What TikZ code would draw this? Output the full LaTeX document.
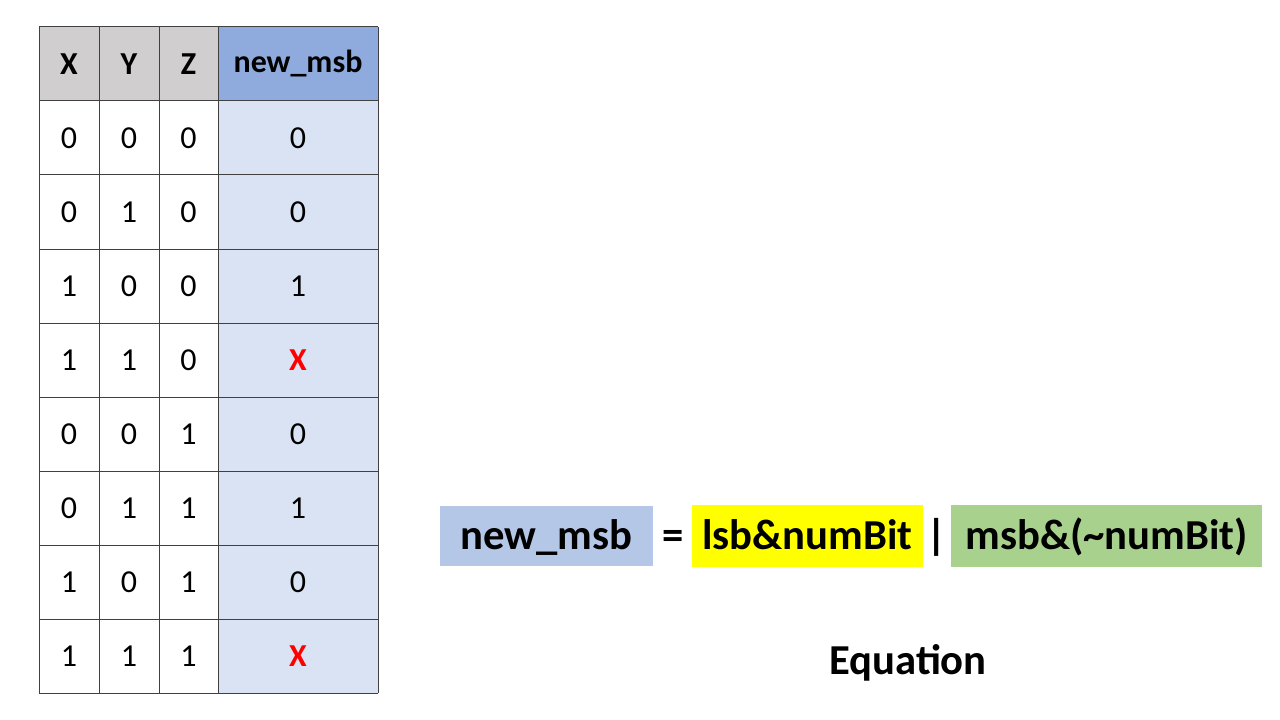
\documentclass[tikz,border=0pt]{standalone}
\usepackage{fontspec}
\setmainfont{Carlito}
\definecolor{hdrgray}{HTML}{D0CECE}
\definecolor{hdrblue}{HTML}{8FAADC}
\definecolor{bodyblue}{HTML}{DAE3F3}
\definecolor{eqblue}{HTML}{B4C7E7}
\definecolor{eqyellow}{HTML}{FFFF00}
\definecolor{eqgreen}{HTML}{A9D18E}
\definecolor{gridline}{HTML}{404040}
\definecolor{xred}{HTML}{FF0000}
\begin{document}
\begin{tikzpicture}[x=0.75pt,y=-0.75pt,
  cell/.style={font=\fontsize{24}{28}\selectfont},
  hcell/.style={font=\fontsize{24}{28}\selectfont\bfseries},
  xcell/.style={font=\fontsize{24}{28}\selectfont\bfseries,text=xred},
  eqtxt/.style={inner sep=0pt,font=\fontsize{32}{38}\selectfont\bfseries,text height=24pt,text depth=3.2pt},
  eqbox/.style={eqtxt,minimum height=45pt}]
\useasboundingbox (0,0) rectangle (1280,720);
% fills
\fill[hdrgray] (39,27) rectangle (218,101);
\fill[hdrblue] (218,27) rectangle (378,101);
\fill[bodyblue] (218,101) rectangle (378,693);
% grid
\foreach \yy in {27,101,175,249,323,397,471,545,619,693}
  \draw[gridline,line width=0.75pt] (39,\yy) -- (378,\yy);
\foreach \xx in {39,99,159,218,378}
  \draw[gridline,line width=0.75pt] (\xx,27) -- (\xx,693);
% header
\node[hcell] (hx) at (69,64) {X};
\node[hcell] (hy) at (129,64) {Y};
\node[hcell] (hz) at (188.5,64) {Z};
\node[hcell] (hn) at (298,64) {new\_msb};
% rows
\foreach \r/\a/\b [count=\i from 0] in {0/0/0, 0/1/0, 1/0/0, 1/1/0, 0/0/1, 0/1/1, 1/0/1, 1/1/1}{
  \pgfmathsetmacro{\yc}{138+74*\i}
  \node[cell] (r\i x) at (69,\yc) {\r};
  \node[cell] (r\i y) at (129,\yc) {\a};
  \node[cell] (r\i z) at (188.5,\yc) {\b};
}
\node[cell] (r0n) at (298,138) {0};
\node[cell] (r1n) at (298,212) {0};
\node[cell] (r2n) at (298,286) {1};
\node[xcell] (r3n) at (298,360) {X};
\node[cell] (r4n) at (298,434) {0};
\node[cell] (r5n) at (298,508) {1};
\node[cell] (r6n) at (298,582) {0};
\node[xcell] (r7n) at (298,656) {X};
% equation
\node[eqbox,fill=eqblue,minimum width=159.75pt] (enew) at (546.5,536) {new\_msb};
\node[eqtxt] (eeq) at (673,536) {=};
\node[eqbox,fill=eqyellow,minimum width=173.25pt,minimum height=46.5pt] (elsb) at (807.5,536) {lsb\&numBit};
\node[eqtxt] (ebar) at (937,536) {|};
\node[eqbox,fill=eqgreen,minimum width=233.25pt,minimum height=46.5pt] (emsb) at (1106.5,536) {msb\&(\textasciitilde numBit)};
\node[font=\fontsize{32}{38}\selectfont\bfseries] (elabel) at (908,663) {Equation};
\end{tikzpicture}
\end{document}
